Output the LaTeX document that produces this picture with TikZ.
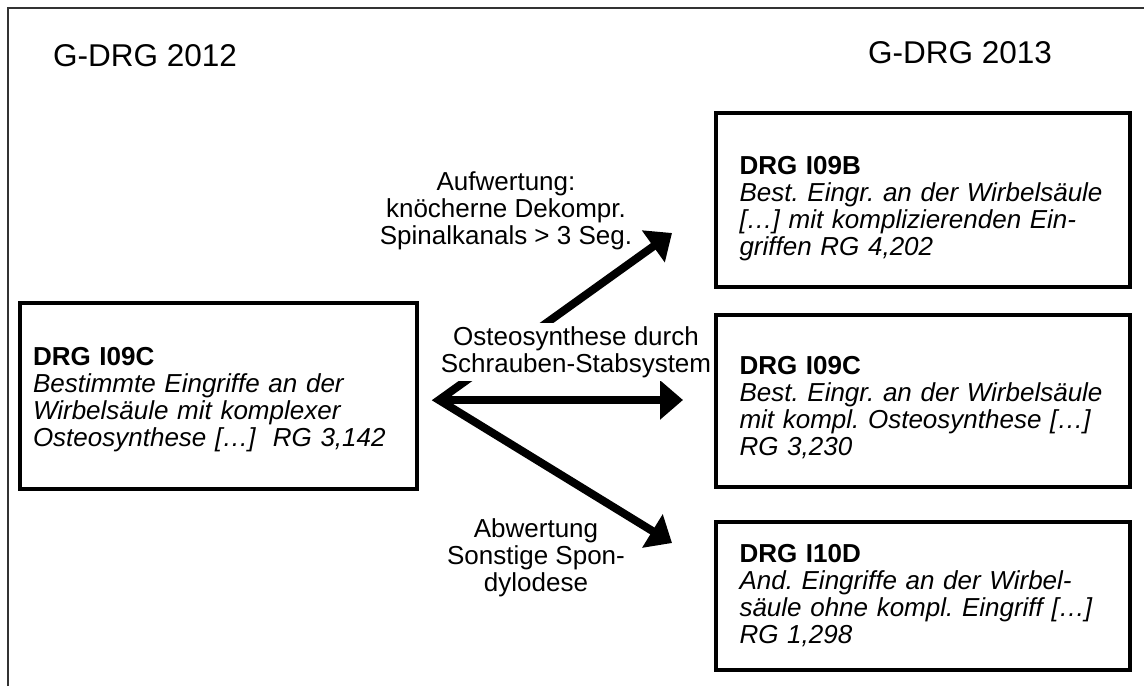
\documentclass[tikz,border=0pt]{standalone}
\usepackage{fontspec}
\setmainfont{Liberation Sans}
\usetikzlibrary{arrows.meta}
\newcommand{\toppad}[1]{\rule{0pt}{#1}}
\begin{document}
\frenchspacing
\begin{tikzpicture}[x=1pt,y=-1pt,font=\fontsize{26}{27}\selectfont,
  >={Triangle[length=23pt,width=38pt]},
  drgbox/.style={draw, line width=4pt, align=left, inner xsep=24pt, text width=366pt},
  bigarrow/.style={line width=8pt, line join=miter},
  lbl/.style={align=center, inner sep=0pt},
  year/.style={font=\fontsize{31.5}{36}\selectfont}]
\useasboundingbox (0,0) rectangle (1144,686);
\draw[black!80, line width=1.5pt] (8,686) -- (8,8) -- (1144,8);
\node[year] (y2012) at (145,56) {G-DRG 2012};
\node[year] (y2013) at (960,53) {G-DRG 2013};
\node[drgbox, inner xsep=13pt, text width=371pt, minimum height=186pt] (i09c12) at (218.5,396)
  {\toppad{25pt}\textbf{DRG I09C}\\ \itshape Bestimmte Eingriffe an der\\ Wirbelsäule mit komplexer\\ Osteosynthese […]\ \ RG 3,142};
\node[drgbox, minimum height=174pt] (i09b13) at (922.5,200)
  {\toppad{35pt}\textbf{DRG I09B}\\ \itshape Best. Eingr. an der Wirbelsäule\\ {}[…] mit komplizierenden Ein-\\ griffen RG 4,202};
\node[drgbox, minimum height=172pt] (i09c13) at (922.5,401)
  {\toppad{31pt}\textbf{DRG I09C}\\ \itshape Best. Eingr. an der Wirbelsäule\\ mit kompl. Osteosynthese […]\\ RG 3,230};
\node[drgbox, minimum height=148pt] (i10d13) at (922.5,596)
  {\textbf{DRG I10D}\\ \itshape And. Eingriffe an der Wirbel-\\ säule ohne kompl. Eingriff […]\\ RG 1,298};
% arrows from the 2012 group
\coordinate (fork) at (439,400);
\coordinate (uptip) at (672,233);
\coordinate (midtip) at (683,400);
\coordinate (downtip) at (672,543);
\draw[bigarrow, ->] (fork) -- (midtip);
\draw[bigarrow, <->] (uptip) -- (fork) -- (downtip);
\node[lbl] (upgrade) at (506,211) {Aufwertung:\\knöcherne Dekompr.\\Spinalkanals > 3 Seg.};
\node[lbl, fill=white, inner sep=3pt] (same) at (576,352) {Osteosynthese durch\\Schrauben-Stabsystem};
\node[lbl] (downgrade) at (536,558) {Abwertung\\Sonstige Spon-\\dylodese};
\end{tikzpicture}
\end{document}
